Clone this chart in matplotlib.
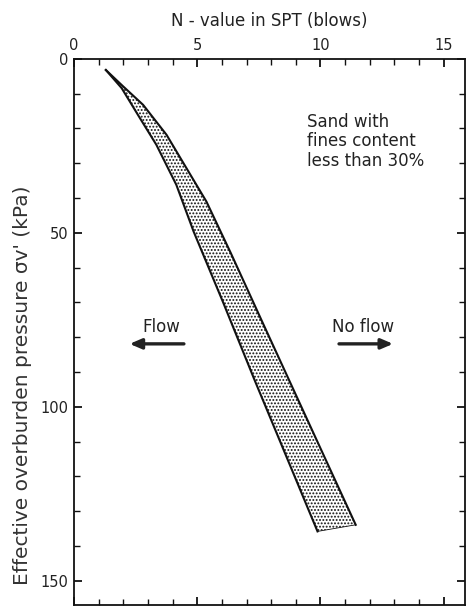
import numpy as np
import matplotlib.pyplot as plt
from matplotlib.ticker import MultipleLocator

plt.rcParams['font.family'] = ['DejaVu Sans']
plt.rcParams['hatch.linewidth'] = 0.9
plt.rcParams['hatch.color'] = '#111111'

# Boundary between flow / no flow (band)
flow_P = [3.2, 8.4, 17, 24.7, 36.2, 49.6, 70, 92.2, 114, 135.8]
flow_N = [1.29, 1.93, 2.67, 3.34, 4.15, 4.85, 6.05, 7.32, 8.6, 9.88]
noflow_P = [3.2, 7.9, 13.2, 21.8, 31.4, 41, 55.8, 75, 95, 115, 133.9]
noflow_N = [1.29, 1.99, 2.80, 3.75, 4.56, 5.37, 6.36, 7.6, 8.9, 10.2, 11.43]

fig = plt.figure(figsize=(4.66, 6.07), dpi=100)
ax = fig.add_axes([0.159, 0.003, 0.838, 0.900])

# shaded band
band_N = flow_N + noflow_N[::-1]
band_P = flow_P + noflow_P[::-1]
ax.fill(band_N, band_P, facecolor='white', edgecolor='#111111', hatch='.....', linewidth=0)
ax.plot(flow_N, flow_P, color='#111111', lw=1.5)
ax.plot(noflow_N, noflow_P, color='#111111', lw=1.5)
ax.plot([flow_N[-1], noflow_N[-1]], [flow_P[-1], noflow_P[-1]], color='#111111', lw=0.6)

ax.set_xlim(0, 15.85)
ax.set_ylim(157, 0)
ax.xaxis.set_major_locator(MultipleLocator(5))
ax.xaxis.set_minor_locator(MultipleLocator(1))
ax.yaxis.set_major_locator(MultipleLocator(50))
ax.yaxis.set_minor_locator(MultipleLocator(10))
ax.tick_params(which='both', direction='in', top=True, bottom=True, left=True, right=True,
               labeltop=True, labelbottom=False, labelsize=10.5, color='#111111',
               labelcolor='#222222')
ax.tick_params(which='major', length=6, width=1.3, pad=4)
ax.tick_params(which='minor', length=4, width=1.0)
for s in ax.spines.values():
    s.set_linewidth(1.3)
    s.set_color('#111111')

ax.xaxis.set_label_position('top')
ax.set_xlabel('N - value in SPT (blows)', fontsize=12, labelpad=9, color='#222222')
ax.set_ylabel("Effective overburden pressure σv' (kPa)", fontsize=14.5, color='#333333')
ax.yaxis.set_label_coords(-0.107, 0.403)

ax.text(9.46, 15.5, 'Sand with\nfines content\nless than 30%', fontsize=12,
        va='top', ha='left', linespacing=1.1, color='#222222')
ax.text(3.52, 77, 'Flow', fontsize=12, ha='center', va='center', color='#222222')
ax.text(11.73, 77, 'No flow', fontsize=12, ha='center', va='center', color='#222222')
ax.annotate('', xy=(2.14, 81.9), xytext=(4.57, 81.9),
            arrowprops=dict(arrowstyle='-|>,head_length=0.7,head_width=0.3', lw=2.4, color='#222222'))
ax.annotate('', xy=(13.06, 81.9), xytext=(10.64, 81.9),
            arrowprops=dict(arrowstyle='-|>,head_length=0.7,head_width=0.3', lw=2.4, color='#222222'))

fig.savefig('out.png', dpi=100)
